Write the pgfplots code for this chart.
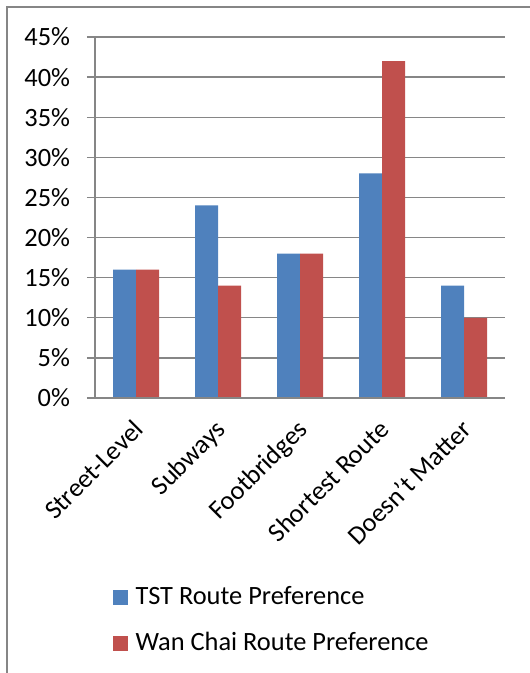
\documentclass[border=0pt]{standalone}
\usepackage{pgfplots}
\pgfplotsset{compat=1.18}
\usepackage{fontspec}
\setmainfont{Carlito}
\definecolor{tstblue}{HTML}{4F81BD}
\definecolor{wcred}{HTML}{C0504D}
\definecolor{axisgray}{HTML}{868686}
\newcommand{\chartfont}{\fontsize{26.5}{31}\selectfont}
\begin{document}
\chartfont
\begin{tikzpicture}
\path[use as bounding box] (0bp,0bp) rectangle (530bp,673bp);
\clip (0bp,0bp) rectangle (530bp,673bp);
% chart area frame
\draw[axisgray, line width=1.3bp] (7bp,-20bp) |- (560bp,666bp);
\begin{axis}[
  at={(95bp,275bp)}, anchor=south west,
  scale only axis, width=410bp, height=361bp,
  xmin=-0.5, xmax=4.5, ymin=0, ymax=45,
  enlargelimits=false, clip=false,
  ybar=0pt, bar width=23bp,
  axis line style={draw=none},
  xtick pos=bottom, ytick pos=left,
  ymajorgrids, grid style={axisgray, line width=1.3bp},
  ytick={0,5,...,45},
  yticklabel={\pgfmathprintnumber{\tick}\%},
  /pgf/number format/assume math mode=true,
  xtick={0,...,4},
  xticklabels={Street-Level,Subways,Footbridges,Shortest Route,Doesn't Matter},
  minor xtick={-0.5,0.5,...,4.5},
  tick align=outside,
  major tick length=8bp, minor tick length=8bp,
  xtick style={draw=none},
  minor x tick style={axisgray, line width=1.3bp},
  ytick style={axisgray, line width=1.3bp},
  xticklabel style={xshift=-4bp, yshift=-9bp, rotate=45, anchor=north east,
    inner sep=2bp, font=\chartfont},
  yticklabel style={font=\chartfont, xshift=-8bp},
  legend style={draw=none, at={(axis description cs:0.035,-0.51)}, anchor=north west,
    font=\chartfont, row sep=20bp, column sep=4bp, legend cell align=left,
    nodes={inner xsep=4bp}},
]
\addplot[fill=tstblue, draw=none,
  legend image code/.code={\fill[tstblue] (0bp,-7.5bp) rectangle (15bp,7.5bp);}]
  coordinates {(0,16) (1,24) (2,18) (3,28) (4,14)};
\addlegendentry{TST Route Preference}
\addplot[fill=wcred, draw=none,
  legend image code/.code={\fill[wcred] (0bp,-7.5bp) rectangle (15bp,7.5bp);}]
  coordinates {(0,16) (1,14) (2,18) (3,42) (4,10)};
\addlegendentry{Wan Chai Route Preference}
% left and bottom axis lines
\draw[axisgray, line width=1.3bp] (rel axis cs:0,1) -- (rel axis cs:0,0) -- (rel axis cs:1,0);
\end{axis}
% blank margin to the right of the plot area
\fill[white] (506bp,20bp) rectangle (531bp,660bp);
\end{tikzpicture}
\end{document}
